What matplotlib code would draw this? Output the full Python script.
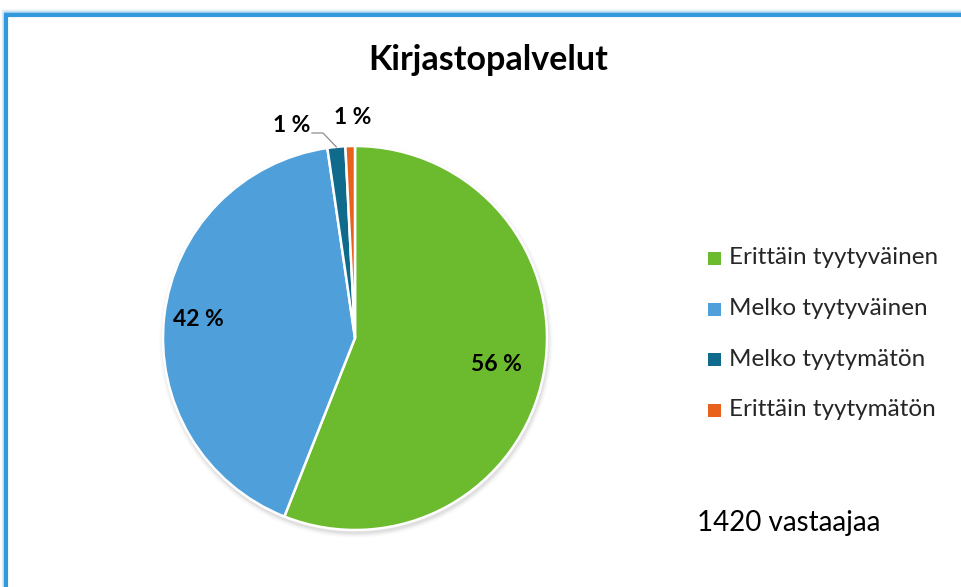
import matplotlib.pyplot as plt
import numpy as np

plt.rcParams['font.family'] = ['Lato', 'DejaVu Sans']

# data
categories = ['Erittäin tyytyväinen', 'Melko tyytyväinen', 'Melko tyytymätön', 'Erittäin tyytymätön']
shares = [56.0, 41.7, 1.5, 0.8]
pct_labels = ['56 %', '42 %', '1 %', '1 %']
colors = ['#6cbb2f', '#4fa0da', '#0f6a8c', '#e8621d']
title = 'Kirjastopalvelut'
note = '1420 vastaajaa'

W, H = 961, 587
fig = plt.figure(figsize=(W / 100, H / 100), dpi=100)
ax = fig.add_axes([0, 0, 1, 1])

cx, cy, r = 355, H - 338, 192

# soft shadow under the pie
for k, a in zip(range(5), np.linspace(0.04, 0.01, 5)):
    ax.add_patch(plt.Circle((cx + 1, cy - 3), r + 1 + k, color='black', alpha=a, lw=0, zorder=0))

wedges, _ = ax.pie(shares, colors=colors, startangle=90, counterclock=False,
                   center=(cx, cy), radius=r,
                   wedgeprops=dict(edgecolor='white', linewidth=1.8), frame=True)
ax.set_xlim(0, W)
ax.set_ylim(0, H)
ax.set_aspect('equal')
ax.axis('off')

# labels for large slices
for w, lab, dist in zip(wedges[:2], pct_labels[:2], [0.75, 0.82]):
    ang = np.deg2rad((w.theta1 + w.theta2) / 2)
    ax.text(cx + dist * r * np.cos(ang), cy + dist * r * np.sin(ang), lab,
            ha='center', va='center', fontsize=16.5, fontweight='bold', color='black')

# small slices: labels above the pie, leader line for the teal one
ang = np.deg2rad((wedges[2].theta1 + wedges[2].theta2) / 2)
ex, ey = cx + r * np.cos(ang), cy + r * np.sin(ang)
ax.plot([312, 323, ex], [H - 133, H - 133, ey], color='#8c8c8c', lw=0.9)
ax.text(292, H - 125, pct_labels[2], ha='center', va='center', fontsize=16.5, fontweight='bold')
ax.text(353, H - 118, pct_labels[3], ha='center', va='center', fontsize=16.5, fontweight='bold')

ax.text(488, H - 60, title, ha='center', va='center', fontsize=24.5, fontweight='bold')

# legend
for i, (cat, col) in enumerate(zip(categories, colors)):
    y = H - (258 + i * 50.5)
    ax.add_patch(plt.Rectangle((708, y - 7), 13, 13, color=col, lw=0))
    ax.text(729, y, cat, ha='left', va='center', fontsize=17.5, color='#262626')

ax.text(697, H - 523, note, ha='left', va='center', fontsize=20, color='black')

# frame (top and left border)
for k, a in zip(range(4), [0.35, 0.2, 0.1, 0.05]):
    ax.plot([5 - k, 5 - k], [0, H - 13 + k], color='#3a9ad9', alpha=a, lw=1.5, solid_capstyle='butt')
    ax.plot([5 - k, W], [H - 13 + k, H - 13 + k], color='#3a9ad9', alpha=a, lw=1.5, solid_capstyle='butt')
ax.plot([5.5, 5.5], [0, H - 15], color='#3399dd', lw=3, solid_capstyle='butt')
ax.plot([4, W], [H - 15, H - 15], color='#3399dd', lw=3, solid_capstyle='butt')

fig.savefig('out.png', dpi=100, facecolor='white')
